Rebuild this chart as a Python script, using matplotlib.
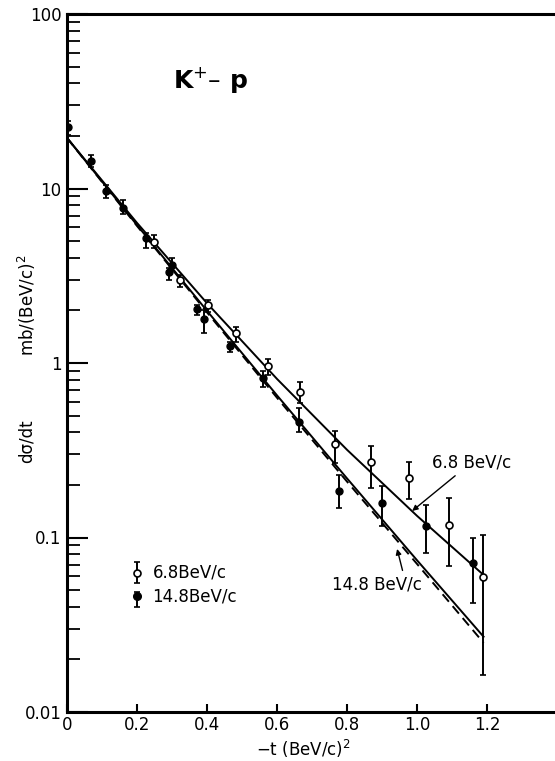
"""K+ p differential cross section, 6.8 and 14.8 BeV/c."""

import matplotlib
matplotlib.use("Agg")
import matplotlib.pyplot as plt
from matplotlib.ticker import FixedLocator, FixedFormatter, LogLocator, NullFormatter
import numpy as np

# 6.8 BeV/c (open circles)
t_68 = [0.249, 0.323, 0.402, 0.483, 0.574, 0.666, 0.766, 0.869, 0.977, 1.091, 1.189]
ds_68 = [4.94, 2.99, 2.15, 1.49, 0.96, 0.68, 0.343, 0.27, 0.219, 0.118, 0.059]
hi_68 = [5.4, 3.19, 2.3, 1.61, 1.05, 0.78, 0.41, 0.335, 0.27, 0.168, 0.103]
lo_68 = [4.55, 2.73, 1.96, 1.32, 0.85, 0.59, 0.267, 0.192, 0.166, 0.069, 0.0163]

# 14.8 BeV/c (filled circles)
t_148 = [0.003, 0.069, 0.111, 0.161, 0.225, 0.292, 0.30, 0.372, 0.392, 0.466,
         0.56, 0.663, 0.777, 0.90, 1.026, 1.16]
ds_148 = [22.5, 14.4, 9.7, 7.7, 5.2, 3.32, 3.64, 2.04, 1.79, 1.25,
          0.82, 0.46, 0.185, 0.158, 0.116, 0.071]
hi_148 = [24.4, 15.6, 10.5, 8.6, 5.55, 3.5, 4.0, 2.15, 2.01, 1.32,
          0.90, 0.55, 0.228, 0.197, 0.153, 0.10]
lo_148 = [20.3, 13.3, 8.8, 7.1, 4.55, 3.0, 3.35, 1.88, 1.49, 1.16,
          0.73, 0.40, 0.148, 0.116, 0.081, 0.042]

# fitted curves, values at these t
fit_t = [0.0, 0.2, 0.4, 0.6, 0.8, 1.0, 1.19]
fit_68 = [19.5, 6.35, 2.20, 0.81, 0.318, 0.133, 0.061]
fit_148 = [19.5, 6.17, 1.99, 0.652, 0.218, 0.074, 0.027]
fit_148_dash = [19.5, 6.1, 1.95, 0.632, 0.209, 0.0705, 0.0249]

x_ticks = [0, 0.2, 0.4, 0.6, 0.8, 1.0, 1.2]
x_labels = ["0", "0.2", "0.4", "0.6", "0.8", "1.0", "1.2"]
y_ticks = [0.01, 0.1, 1, 10, 100]
y_labels = ["0.01", "0.1", "1", "10", "100"]

plt.rcParams["font.family"] = ["DejaVu Sans"]

fig = plt.figure(figsize=(5.55, 7.61), dpi=100)
ax = fig.add_axes([67 / 555, 49 / 761, 488 / 555, 698 / 761])


def errs(y, lo, hi):
    y = np.asarray(y)
    return [y - np.asarray(lo), np.asarray(hi) - y]


ax.plot(fit_t, fit_68, color="black", lw=1.4)
ax.plot(fit_t, fit_148, color="black", lw=1.4)
ax.plot(fit_t, fit_148_dash, color="black", lw=1.4, ls=(0, (5, 3)))

ax.errorbar(t_68, ds_68, yerr=errs(ds_68, lo_68, hi_68), fmt="o", ms=5,
            mfc="white", mec="black", mew=1.2, ecolor="black", elinewidth=1.4,
            capsize=2.5, capthick=1.2, zorder=3)
ax.errorbar(t_148, ds_148, yerr=errs(ds_148, lo_148, hi_148), fmt="o", ms=5,
            mfc="black", mec="black", ecolor="black", elinewidth=1.4,
            capsize=2.5, capthick=1.2, zorder=4)

# legend drawn by hand, as in the original
ax.errorbar([0.2], [0.063], yerr=[[0.008], [0.009]], fmt="o", ms=5,
            mfc="white", mec="black", mew=1.2, ecolor="black", elinewidth=1.4,
            capsize=2.5, capthick=1.2)
ax.errorbar([0.2], [0.046], yerr=[[0.006], [0.003]], fmt="o", ms=5.5,
            mfc="black", mec="black", ecolor="black", elinewidth=1.4,
            capsize=2.5, capthick=1.2)
ax.text(0.244, 0.063, "6.8BeV/c", fontsize=12, va="center", ha="left")
ax.text(0.244, 0.046, "14.8BeV/c", fontsize=12, va="center", ha="left")

ax.text(0.303, 42, "K$^{+}$– p", fontsize=18, fontweight="bold",
        va="center", ha="left")

ax.annotate("6.8 BeV/c", xy=(0.986, 0.142), xytext=(1.043, 0.27),
            fontsize=12, va="center", ha="left",
            arrowprops=dict(arrowstyle="-|>", color="black", lw=1.0,
                            shrinkA=2, shrinkB=0, mutation_scale=8))
ax.annotate("14.8 BeV/c", xy=(0.943, 0.086), xytext=(0.757, 0.0535),
            fontsize=12, va="center", ha="left",
            arrowprops=dict(arrowstyle="-|>", color="black", lw=1.0,
                            shrinkA=2, shrinkB=0, mutation_scale=8,
                            relpos=(0.8, 1.0)))

ax.set_yscale("log")
ax.set_ylim(0.01, 100)
ax.set_xlim(0, 1.394)

ax.xaxis.set_major_locator(FixedLocator(x_ticks))
ax.xaxis.set_major_formatter(FixedFormatter(x_labels))
ax.yaxis.set_major_locator(FixedLocator(y_ticks))
ax.yaxis.set_major_formatter(FixedFormatter(y_labels))
ax.yaxis.set_minor_locator(LogLocator(base=10, subs=np.arange(2, 10)))
ax.yaxis.set_minor_formatter(NullFormatter())

ax.tick_params(axis="x", which="major", direction="in", length=6, width=1.5,
               labelsize=12, pad=3, top=False)
ax.tick_params(axis="y", which="major", direction="in", length=15, width=1.5,
               labelsize=12, pad=4, right=False)
ax.tick_params(axis="y", which="minor", direction="in", length=9, width=1.3,
               right=False)

for side in ("left", "bottom", "top"):
    ax.spines[side].set_linewidth(2.2)
ax.spines["right"].set_visible(False)

fig.text(27 / 555, 1 - 305 / 761, "mb/(BeV/c)$^2$", rotation=90,
         fontsize=12, ha="center", va="center")
fig.text(27 / 555, 1 - 441 / 761, "dσ/dt", rotation=90,
         fontsize=12, ha="center", va="center")
fig.text(303 / 555, 1 - 749 / 761, "$-$t (BeV/c)$^2$", fontsize=12,
         ha="center", va="center")

fig.savefig("out.png", dpi=100)
